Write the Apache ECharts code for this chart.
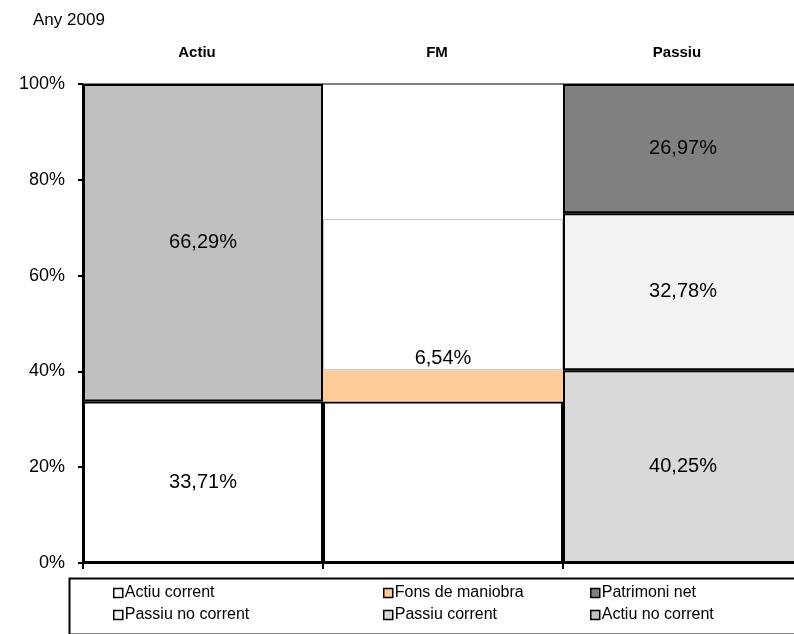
<!DOCTYPE html>
<html>
<head>
<meta charset="utf-8">
<script src="https://cdn.jsdelivr.net/npm/echarts@6/dist/echarts.min.js"></script>
<style>
  html, body { margin: 0; padding: 0; background: #fff; }
</style>
</head>
<body>
<div id="chart" style="width: 794px; height: 634px"></div>
<script>
const categories = ['Actiu', 'FM', 'Passiu']
const yTicks = [0, 20, 40, 60, 80, 100]

// stacked shares in %, one value per category
const actiuCorrent = [33.71, 33.71, null]
const fonsManiobra = [null, 6.54, null]
const passiuCorrent = [null, null, 40.25]
const fmGap = [null, 31.55, null]
const passiuNoCorrent = [null, null, 32.78]
const patrimoniNet = [null, null, 26.97]
const actiuNoCorrent = [66.29, null, null]

const legendNames = [
  'Actiu corrent', 'Fons de maniobra', 'Patrimoni net',
  'Passiu no corrent', 'Passiu corrent', 'Actiu no corrent'
]

const font = "'Liberation Sans', Arial, sans-serif"
const fmt = v => v.toFixed(2).replace('.', ',') + '%'

const chart = echarts.init(document.getElementById('chart'))

const valueLabel = (onlyIndex, position) => ({
  show: true,
  position: position || 'inside',
  distance: 2,
  color: '#000',
  fontSize: 20,
  fontFamily: font,
  formatter: p => (onlyIndex === null || p.dataIndex === onlyIndex) && p.value != null ? fmt(p.value) : ''
})

const bar = (name, data, color, border, label, extra) => Object.assign({
  name,
  type: 'bar',
  stack: 'total',
  data,
  barWidth: '100%',
  barCategoryGap: 0,
  itemStyle: {
    color,
    borderColor: border ? '#000' : 'transparent',
    borderWidth: border ? 2 : 0
  },
  label: label || { show: false },
  emphasis: { disabled: true },
  animation: false
}, extra || {})

// legend layout: 3 columns x 2 rows
const colX = [113, 383, 590]
const rowY = [585, 607]
const legends = legendNames.map((n, i) => ({
  data: [n],
  left: colX[i % 3],
  top: rowY[Math.floor(i / 3)],
  padding: 0,
  icon: 'rect',
  itemWidth: 9,
  itemHeight: 9,
  itemGap: 0,
  selectedMode: false,
  itemStyle: { borderColor: '#000', borderWidth: 1.5 },
  textStyle: { fontSize: 16, fontFamily: font, color: '#000', padding: [0, 0, 0, -3] }
}))

const option = {
  animation: false,
  title: {
    text: 'Any 2009',
    left: 33,
    top: 12,
    padding: 0,
    textStyle: { fontSize: 17, fontWeight: 'normal', fontFamily: font, color: '#000' }
  },
  grid: { left: 83, top: 84, width: 720, height: 479, outerBoundsMode: 'none' },
  legend: legends,
  xAxis: [
    {
      type: 'category',
      data: categories,
      position: 'bottom',
      axisLine: { lineStyle: { color: '#000', width: 2 } },
      axisTick: { show: true, length: 6, interval: 0, lineStyle: { color: '#000', width: 2 } },
      axisLabel: { show: false }
    },
    {
      type: 'category',
      data: categories,
      position: 'top',
      axisLine: { lineStyle: { color: '#808080', width: 2 } },
      axisTick: { show: false },
      axisLabel: {
        interval: 0,
        margin: 24,
        fontSize: 15,
        fontWeight: 'bold',
        fontFamily: font,
        color: '#000',
        padding: [0, 12, 0, 0]
      }
    }
  ],
  yAxis: {
    type: 'value',
    min: 0,
    max: 100,
    interval: 20,
    axisLine: { show: true, lineStyle: { color: '#000', width: 2 } },
    axisTick: { show: true, length: 5, lineStyle: { color: '#000', width: 2 } },
    splitLine: { show: false },
    axisLabel: {
      margin: 18,
      fontSize: 18,
      fontFamily: font,
      color: '#000',
      formatter: v => yTicks.includes(v) ? v + '%' : ''
    }
  },
  series: [
    bar('Actiu corrent', actiuCorrent, '#ffffff', true, valueLabel(0)),
    bar('Fons de maniobra', fonsManiobra, '#ffcc99', false, valueLabel(null, 'top')),
    bar('Passiu corrent', passiuCorrent, '#d9d9d9', true, valueLabel(null)),
    bar('fm-gap', fmGap, '#ffffff', false, null, {
      z: 1,
      itemStyle: { color: '#ffffff', borderColor: '#c0c0c0', borderWidth: 1 }
    }),
    bar('Passiu no corrent', passiuNoCorrent, '#f2f2f2', true, valueLabel(null)),
    bar('Patrimoni net', patrimoniNet, '#808080', true, valueLabel(null)),
    bar('Actiu no corrent', actiuNoCorrent, '#c0c0c0', true, valueLabel(null))
  ],
  graphic: [
    {
      type: 'rect',
      left: 67,
      top: 576,
      shape: { width: 740, height: 56 },
      style: { fill: 'none', stroke: '#000', lineWidth: 2 },
      silent: true
    }
  ]
}

chart.setOption(option)
window.addEventListener('resize', () => chart.resize())
</script>
</body>
</html>
